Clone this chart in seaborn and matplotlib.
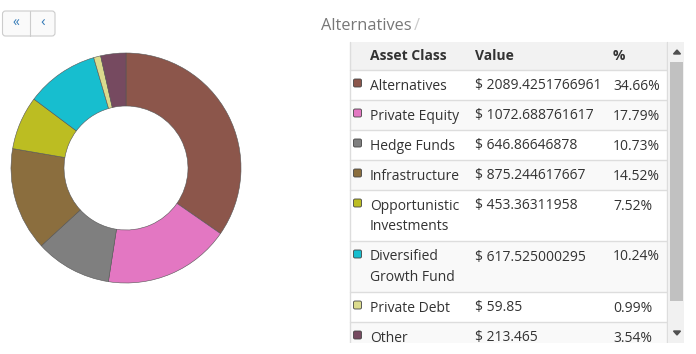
import matplotlib
matplotlib.use("Agg")
import matplotlib.pyplot as plt
import seaborn as sns
from matplotlib.patches import FancyBboxPatch, Rectangle, Polygon

# dados da carteira
categorias = ["Alternatives", "Private Equity", "Hedge Funds", "Infrastructure",
              "Opportunistic\nInvestments", "Diversified\nGrowth Fund", "Private Debt", "Other"]
valores = [2089.4251766961, 1072.688761617, 646.86646878, 875.244617667,
           453.36311958, 617.525000295, 59.85, 213.465]
percentuais = ["34.66%", "17.79%", "10.73%", "14.52%", "7.52%", "10.24%", "0.99%", "3.54%"]
cores = ["#8c564b", "#e377c2", "#7f7f7f", "#8b6e3e", "#bcbd22", "#17becf", "#dbdb8d", "#764a60"]

sns.set_theme(style="white")
plt.rcParams['font.family'] = ['Open Sans', 'DejaVu Sans']

W, H = 696, 354
fig = plt.figure(figsize=(W / 100, H / 100), dpi=100)

# camada de fundo em pixels
ov = fig.add_axes([0, 0, 1, 1])
ov.set_xlim(0, W)
ov.set_ylim(H, 0)
ov.axis('off')

# donut
cx, cy, r = 126, 168, 115
axp = fig.add_axes([(cx - r) / W, (H - cy - r) / H, 2 * r / W, 2 * r / H])
axp.pie(valores, colors=cores, startangle=90, counterclock=False,
        wedgeprops=dict(width=1 - 62 / 115, edgecolor='#555555', linewidth=0.4))
axp.set_xlim(-1, 1)
axp.set_ylim(-1, 1)

# botões
ov.add_patch(FancyBboxPatch((2.5, 11), 52.5, 25, boxstyle="round,pad=0,rounding_size=3",
                            facecolor='#fafafa', edgecolor='#cccccc', lw=0.8))
ov.plot([29.5, 29.5], [11, 36], color='#cccccc', lw=0.8)
ov.text(16, 23.5, "«", color='#337ab7', fontsize=10, ha='center', va='center')
ov.text(43, 23.5, "‹", color='#337ab7', fontsize=11, ha='center', va='center')

# título
ov.text(321, 26, "Alternatives", color='#777777', fontsize=11.8, va='center', ha='left')
ov.text(414, 26, "/", color='#cccccc', fontsize=11.8, va='center', ha='left')

# tabela
x0, x1 = 350, 667
topo, cab = 42, 70
alturas = [30, 30, 30, 30, 51, 51, 30, 30]
ov.add_patch(Rectangle((x0, topo), x1 - x0, cab - topo, facecolor='#f2f2f2', edgecolor='none'))
ov.text(370, 56, "Asset Class", fontsize=10, fontweight='bold', color='#333333', va='center')
ov.text(475, 56, "Value", fontsize=10, fontweight='bold', color='#333333', va='center')
ov.text(613, 56, "%", fontsize=10, fontweight='bold', color='#333333', va='center')

y = cab
for i, (nome, v, p, c, h) in enumerate(zip(categorias, valores, percentuais, cores, alturas)):
    if i % 2 == 1:
        ov.add_patch(Rectangle((x0, y), x1 - x0, h, facecolor='#f9f9f9', edgecolor='none'))
    ov.plot([x0, x1], [y, y], color='#dddddd', lw=1)
    ty = y + 16
    ov.add_patch(FancyBboxPatch((353.5, ty - 7), 8, 8, boxstyle="round,pad=0,rounding_size=1.5",
                                facecolor=c, edgecolor='#444444', lw=0.6))
    for k, linha in enumerate(nome.split('\n')):
        ov.text(370, ty + 20.5 * k, linha, fontsize=10, color='#333333', va='center')
    ov.text(475, ty, f"$ {v}", fontsize=10, color='#333333', va='center')
    ov.text(613, ty, p, fontsize=10, color='#333333', va='center')
    y += h
ov.plot([x0, x0], [topo, H - 11], color='#dddddd', lw=1)
ov.plot([x1, x1], [topo, H - 11], color='#dddddd', lw=1)

# corta a parte de baixo
ov.add_patch(Rectangle((340, H - 11), 360, 11, facecolor='white', edgecolor='none', zorder=5))

# barra de rolagem
ov.add_patch(Rectangle((668, topo), 16, H - 11 - topo, facecolor='#f1f1f1', edgecolor='none', zorder=6))
ov.add_patch(Rectangle((670, 62), 13, 239, facecolor='#c1c1c1', edgecolor='none', zorder=7))
ov.add_patch(Polygon([[673.5, 54], [680.5, 54], [677, 50]], closed=True, color='#505050', zorder=7))
ov.add_patch(Polygon([[673.5, 331], [680.5, 331], [677, 335]], closed=True, color='#505050', zorder=7))

fig.savefig("out.png", dpi=100)
